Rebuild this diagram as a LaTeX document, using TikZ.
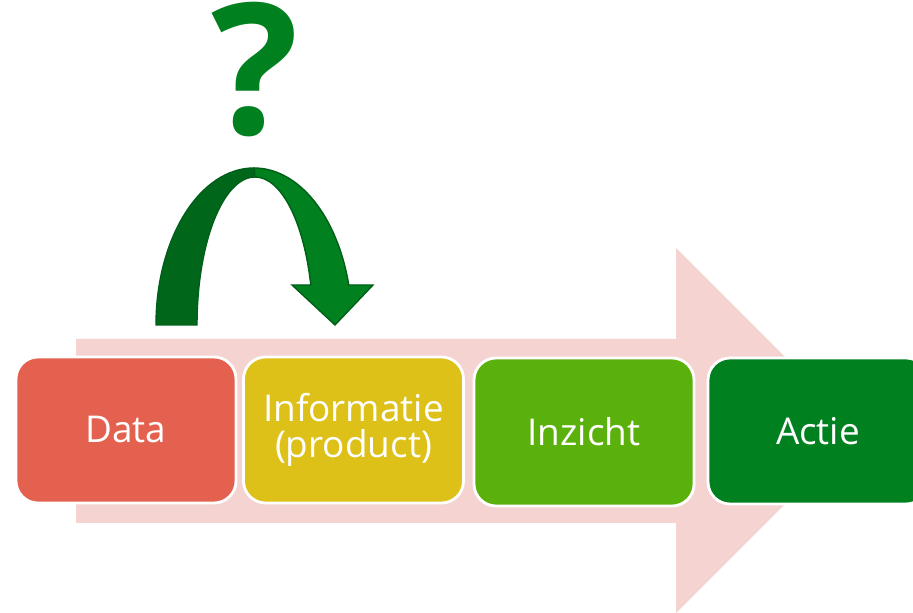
\documentclass[tikz,border=0pt]{standalone}
\usepackage{fontspec}
\setmainfont{Open Sans}
\definecolor{datared}{RGB}{228,97,80}
\definecolor{infoyellow}{RGB}{221,192,24}
\definecolor{insightgreen}{RGB}{90,177,11}
\definecolor{actiongreen}{RGB}{0,128,31}
\definecolor{flowpink}{RGB}{244,211,209}
\definecolor{curvedark}{RGB}{0,102,26}
\definecolor{curveline}{RGB}{0,95,24}
\tikzstyle{stepbox}=[shape=rectangle,
                rounded corners=0.22cm,
                draw=white,
                line width=0.8pt,
                text=white,
                align=center,
                minimum height=1.46cm,
                minimum width=2.2cm,
                font=\fontsize{10.5}{10.3}\selectfont]
\tikzstyle{curvepart}=[draw=curveline,
                line width=0.4pt]

\begin{document}
\begin{tikzpicture}
\useasboundingbox (0,0) rectangle (9.13,6.13);
\clip (0,0) rectangle (9.13,6.13);

% big arrow
\fill[flowpink] (0.76,2.74) -- (6.76,2.74) -- (6.76,3.65) -- (8.585,1.825)
  -- (6.76,0) -- (6.76,0.90) -- (0.76,0.90) -- cycle;

% steps
\node[stepbox,fill=datared] (data) at (1.26,1.83) {Data};
\node[stepbox,fill=infoyellow] (info) at (3.535,1.83) {Informatie\\(product)};
\node[stepbox,fill=insightgreen,minimum height=1.48cm] (insight) at (5.84,1.81) {Inzicht};
\node[stepbox,fill=actiongreen] (action) at (8.18,1.82) {Actie};

% curved arrow
\path[curvepart,fill=curvedark] (1.56,2.88)
  arc[start angle=180,end angle=90,x radius=0.98cm,y radius=1.57cm]
  -- (2.55,4.36)
  arc[start angle=90,end angle=180,x radius=0.58cm,y radius=1.48cm]
  -- cycle;
\path[curvepart,fill=actiongreen] (2.54,4.45)
  arc[start angle=90,end angle=14.76,x radius=0.98cm,y radius=1.57cm]
  -- (3.73,3.28) -- (3.35,2.88) -- (2.92,3.28) -- (3.108,3.28)
  arc[start angle=15.68,end angle=90,x radius=0.58cm,y radius=1.48cm]
  -- cycle;

% question
\node[text=actiongreen,anchor=base,inner sep=0pt,
      font=\fontsize{52}{52}\selectfont\bfseries] (question) at (2.55,4.78) {?};

\end{tikzpicture}
\end{document}
